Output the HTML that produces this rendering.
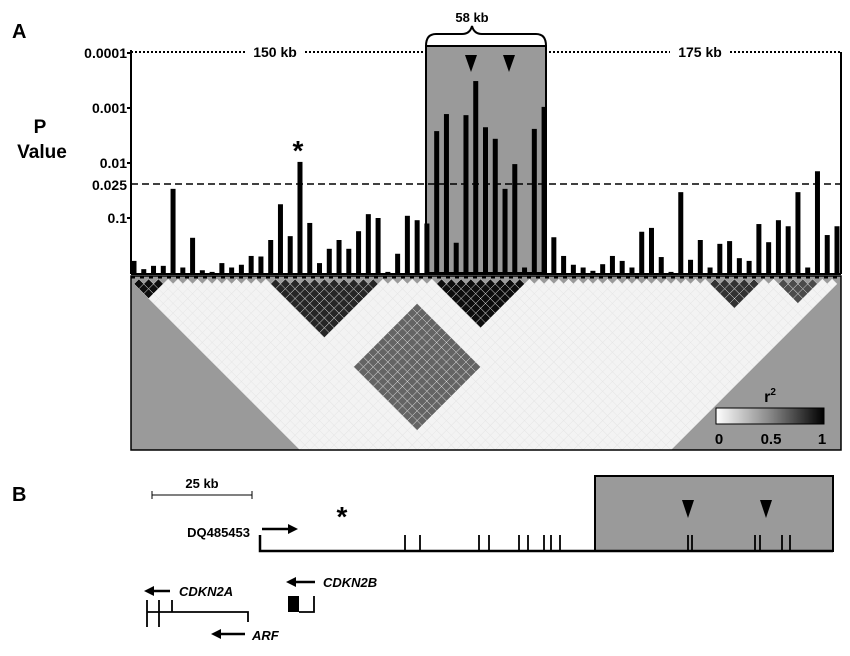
<!DOCTYPE html>
<html><head><meta charset="utf-8"><style>
body{margin:0;background:#fff;}
svg{display:block;font-family:"Liberation Sans",Arial,sans-serif;font-weight:bold;}
</style></head><body>
<svg id="fig" width="850" height="656" viewBox="0 0 850 656">
<text x="12" y="38" font-size="20">A</text>
<text x="12" y="501" font-size="20">B</text>
<text x="40" y="133" font-size="19" text-anchor="middle"><tspan x="40">P</tspan><tspan x="42" dy="25">Value</tspan></text>
<rect x="426" y="46" width="120" height="227" fill="#9a9a9a" stroke="#000" stroke-width="2"/>
<path d="M426,46 Q426,34 436,34 L462,34 Q470,34 472,26 Q474,34 482,34 L536,34 Q546,34 546,46" fill="none" stroke="#000" stroke-width="2"/>
<text x="472" y="22" font-size="13" text-anchor="middle">58 kb</text>
<line x1="131" y1="52" x2="245" y2="52" stroke="#000" stroke-width="2" stroke-dasharray="2,2"/>
<line x1="305" y1="52" x2="424" y2="52" stroke="#000" stroke-width="2" stroke-dasharray="2,2"/>
<text x="275" y="57" font-size="14" text-anchor="middle">150 kb</text>
<line x1="549" y1="52" x2="670" y2="52" stroke="#000" stroke-width="2" stroke-dasharray="2,2"/>
<line x1="730" y1="52" x2="841" y2="52" stroke="#000" stroke-width="2" stroke-dasharray="2,2"/>
<text x="700" y="57" font-size="14" text-anchor="middle">175 kb</text>
<line x1="131" y1="184" x2="841" y2="184" stroke="#000" stroke-width="1.5" stroke-dasharray="7,4"/>
<g id="bars"></g>
<g id="yticks"></g>
<line x1="131" y1="50" x2="131" y2="274" stroke="#000" stroke-width="2"/>
<line x1="841" y1="52" x2="841" y2="274" stroke="#000" stroke-width="2"/>
<line x1="131" y1="274" x2="841" y2="274" stroke="#000" stroke-width="2"/>
<polygon points="465,55 477,55 471,72" fill="#000"/>
<polygon points="503,55 515,55 509,72" fill="#000"/>
<text x="298" y="160" font-size="28" text-anchor="middle">*</text>
<clipPath id="ldclip"><rect x="131" y="276" width="710" height="174"/></clipPath>
<g clip-path="url(#ldclip)">
<rect x="131" y="276" width="710" height="174" fill="#9a9a9a"/>
<g id="ld"></g>
</g>
<rect x="131" y="276" width="710" height="174" fill="none" stroke="#000" stroke-width="1.5"/>
<line x1="131" y1="277" x2="841" y2="277" stroke="#000" stroke-width="3" stroke-dasharray="4,5"/>
<defs><linearGradient id="gr" x1="0" x2="1"><stop offset="0" stop-color="#fff"/><stop offset="0.5" stop-color="#888"/><stop offset="1" stop-color="#000"/></linearGradient></defs>
<rect x="716" y="408" width="108" height="16" fill="url(#gr)" stroke="#000"/>
<text x="770" y="402" font-size="16" text-anchor="middle">r<tspan font-size="10" dy="-7">2</tspan></text>
<text x="719" y="444" font-size="15" text-anchor="middle">0</text>
<text x="771" y="444" font-size="15" text-anchor="middle">0.5</text>
<text x="822" y="444" font-size="15" text-anchor="middle">1</text>

<!-- Panel B -->
<line x1="152" y1="495" x2="252" y2="495" stroke="#000" stroke-width="1"/>
<line x1="152" y1="491" x2="152" y2="499" stroke="#000"/><line x1="252" y1="491" x2="252" y2="499" stroke="#000"/>
<text x="202" y="488" font-size="13" text-anchor="middle">25 kb</text>
<rect x="595" y="476" width="238" height="75" fill="#9a9a9a" stroke="#000" stroke-width="2"/>
<text x="342" y="526" font-size="28" text-anchor="middle">*</text>
<text x="250" y="537" font-size="13" text-anchor="end">DQ485453</text>
<line x1="262" y1="529" x2="290" y2="529" stroke="#000" stroke-width="2.5"/>
<polygon points="288,524 298,529 288,534" fill="#000"/>
<polyline points="260,535 260,551 833,551" fill="none" stroke="#000" stroke-width="2.5"/>
<g id="snpticks"></g>
<polygon points="682,500 694,500 688,518" fill="#000"/>
<polygon points="760,500 772,500 766,518" fill="#000"/>
<line x1="153" y1="591" x2="170" y2="591" stroke="#000" stroke-width="2.5"/>
<polygon points="144,591 154,586 154,596" fill="#000"/>
<text x="179" y="596" font-size="13" font-style="italic">CDKN2A</text>
<g stroke="#000" stroke-width="1.8" fill="none">
<line x1="147" y1="600" x2="147" y2="627"/><line x1="159" y1="600" x2="159" y2="627"/><line x1="172" y1="600" x2="172" y2="612"/>
<polyline points="147,612 248,612 248,622"/>
</g>
<line x1="220" y1="634" x2="245" y2="634" stroke="#000" stroke-width="2.5"/>
<polygon points="211,634 221,629 221,639" fill="#000"/>
<text x="252" y="640" font-size="13" font-style="italic">ARF</text>
<line x1="295" y1="582" x2="315" y2="582" stroke="#000" stroke-width="2.5"/>
<polygon points="286,582 296,577 296,587" fill="#000"/>
<text x="323" y="587" font-size="13" font-style="italic">CDKN2B</text>
<rect x="288" y="596" width="11" height="16" fill="#000"/>
<polyline points="299,612 314,612 314,596" fill="none" stroke="#000" stroke-width="1.8"/>
</svg>
<script>
// -log10(P) values for 73 SNPs
const pValuesNegLog = [0.22,0.07,0.13,0.13,1.53,0.1,0.64,0.05,0.02,0.18,0.1,0.15,0.31,0.3,0.6,1.25,0.67,2.02,0.91,0.18,0.44,0.6,0.44,0.76,1.07,1.0,0.02,0.35,1.04,0.96,0.9,
2.58,2.89,0.55,2.87,3.49,2.65,2.44,1.53,1.98,0.1,2.62,3.02,0.65,
0.31,0.15,0.1,0.04,0.16,0.31,0.22,0.1,0.75,0.82,0.29,0.02,1.47,0.24,0.6,0.1,0.53,0.58,0.27,0.22,0.89,0.56,0.96,0.85,1.47,0.1,1.85,0.69,0.85];
const tickValues = [4,3,2,1.6,1];
const tickLabels = ["0.0001","0.001","0.01","0.025","0.1"];
// LD blocks: start SNP, end SNP, r2
const ldBlockStart = [0,14,31,59,34,62,66];
const ldBlockEnd   = [3,25,40,64,36,64,70];
const ldBlockR2    = [0.95,0.85,0.95,0.8,0.9,0.9,0.7];
// cross-block LD: [A start, A end, B start, B end, r2]
const ldCross = [[14,26,32,44,0.6]];
const bTickPositionsKb = [36.25,40,54.75,57.25,64.75,67,71,72.75,75,107,108,123.75,125,130.5,132.5];

const NS='http://www.w3.org/2000/svg';
const x0=134, x1=837, n=pValuesNegLog.length;
const xScale=i=>x0+(x1-x0)*i/(n-1);
const yScale=v=>273-55*v;
const bars=document.getElementById('bars');
pValuesNegLog.forEach((v,i)=>{
  const r=document.createElementNS(NS,'rect');
  r.setAttribute('x',xScale(i)-2.5);r.setAttribute('y',yScale(v));
  r.setAttribute('width',5);r.setAttribute('height',273-yScale(v));
  r.setAttribute('fill','#000');
  
  
  bars.appendChild(r);
});
const yt=document.getElementById('yticks');
tickValues.forEach((v,k)=>{
  const t=document.createElementNS(NS,'text');
  t.setAttribute('x',127);t.setAttribute('y',yScale(v)+5);
  t.setAttribute('text-anchor','end');t.setAttribute('font-size','14');
  t.textContent=tickLabels[k];
  
  
  yt.appendChild(t);
  if(k!==3){const l=document.createElementNS(NS,'line');
  l.setAttribute('x1',127);l.setAttribute('x2',131);l.setAttribute('y1',yScale(v));l.setAttribute('y2',yScale(v));
  l.setAttribute('stroke','#000');l.setAttribute('stroke-width',2);yt.appendChild(l);}
});
function r2(i,j){
  for(let b=0;b<ldBlockStart.length;b++) if(i>=ldBlockStart[b]&&j<=ldBlockEnd[b]) return ldBlockR2[b];
  for(const c of ldCross) if(i>=c[0]&&i<=c[1]&&j>=c[2]&&j<=c[3]) return c[4];
  return 0.03;
}
const ld=document.getElementById('ld');
const h=(x1-x0)/(n-1)/2;
for(let i=0;i<n;i++)for(let j=i+1;j<n;j++){
  const cx=(xScale(i)+xScale(j))/2, cy=279+(xScale(j)-xScale(i))/2;
  if(cy-h>452) continue;
  const v=r2(i,j), g=Math.round(250*(1-v));
  const p=document.createElementNS(NS,'polygon');
  p.setAttribute('points',`${cx},${cy-h} ${cx+h},${cy} ${cx},${cy+h} ${cx-h},${cy}`);
  p.setAttribute('fill',`rgb(${g},${g},${g})`);
  p.setAttribute('stroke','#e6e6e6');p.setAttribute('stroke-width','0.5');
  ld.appendChild(p);
}
const st=document.getElementById('snpticks');
bTickPositionsKb.forEach(k=>{
  const x=260+k*4;
  const l=document.createElementNS(NS,'line');
  l.setAttribute('x1',x);l.setAttribute('x2',x);l.setAttribute('y1',535);l.setAttribute('y2',551);
  l.setAttribute('stroke','#000');l.setAttribute('stroke-width','1.8');
  
  
  st.appendChild(l);
});
</script>
</body></html>
